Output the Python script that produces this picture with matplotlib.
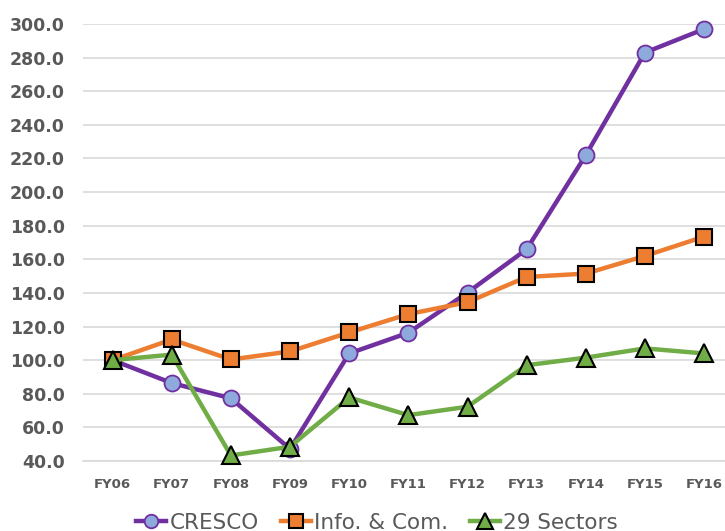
import matplotlib
matplotlib.use("Agg")
import matplotlib.pyplot as plt

years = ["FY06", "FY07", "FY08", "FY09", "FY10", "FY11", "FY12", "FY13", "FY14", "FY15", "FY16"]
cresco = [100.0, 86.4, 77.3, 47.2, 104.0, 116.3, 140.2, 166.0, 222.0, 283.0, 297.0]
info_com = [100.0, 112.3, 100.4, 105.2, 116.5, 127.4, 134.5, 149.5, 151.5, 162.0, 173.5]
sectors29 = [100.0, 103.3, 43.3, 48.5, 77.8, 67.3, 72.3, 97.0, 101.5, 107.0, 104.0]
y_ticks = [40, 60, 80, 100, 120, 140, 160, 180, 200, 220, 240, 260, 280, 300]

grey = "#595959"

fig = plt.figure(figsize=(7.25, 5.31), dpi=100)
ax = fig.add_axes([0.1145, 0.1318, 0.8975, 0.823])

x = list(range(len(years)))
ax.plot(x, cresco, color="#7030A0", lw=3.2, marker="o", ms=11.5,
        markerfacecolor="#8EA9DB", markeredgecolor="#7030A0", markeredgewidth=1.3,
        label="CRESCO", zorder=3)
ax.plot(x, info_com, color="#ED7D31", lw=3.2, marker="s", ms=12,
        markerfacecolor="#ED7D31", markeredgecolor="black", markeredgewidth=1.5,
        label="Info. & Com.", zorder=4)
ax.plot(x, sectors29, color="#70AD47", lw=3.2, marker="^", ms=13,
        markerfacecolor="#70AD47", markeredgecolor="black", markeredgewidth=1.5,
        label="29 Sectors", zorder=5)

ax.set_xlim(-0.5, len(years) - 0.5)
ax.set_ylim(40, 300)
ax.set_yticks(y_ticks)
ax.set_yticklabels([f"{v:.1f}" for v in y_ticks], fontsize=12.5, fontweight="bold", color=grey)
ax.set_xticks(x)
ax.set_xticklabels(years, fontsize=9.5, fontweight="bold", color=grey)
ax.tick_params(axis="both", length=0)
ax.tick_params(axis="y", pad=13)
ax.tick_params(axis="x", pad=12.5)

ax.grid(axis="y", color="#D9D9D9", lw=1.2)
ax.set_axisbelow(True)
for name, spine in ax.spines.items():
    spine.set_visible(False)
ax.spines["bottom"].set_visible(True)
ax.spines["bottom"].set_color("#D9D9D9")
ax.spines["bottom"].set_linewidth(1.2)

for line in ax.lines:
    line.set_clip_on(False)

fig.legend(loc="center", bbox_to_anchor=(0.52, 0.016), ncol=3, frameon=False,
           fontsize=15.5, labelcolor=grey, handlelength=1.4, handletextpad=0.15,
           columnspacing=1.0, markerscale=0.85)

fig.savefig("out.png", dpi=100)
